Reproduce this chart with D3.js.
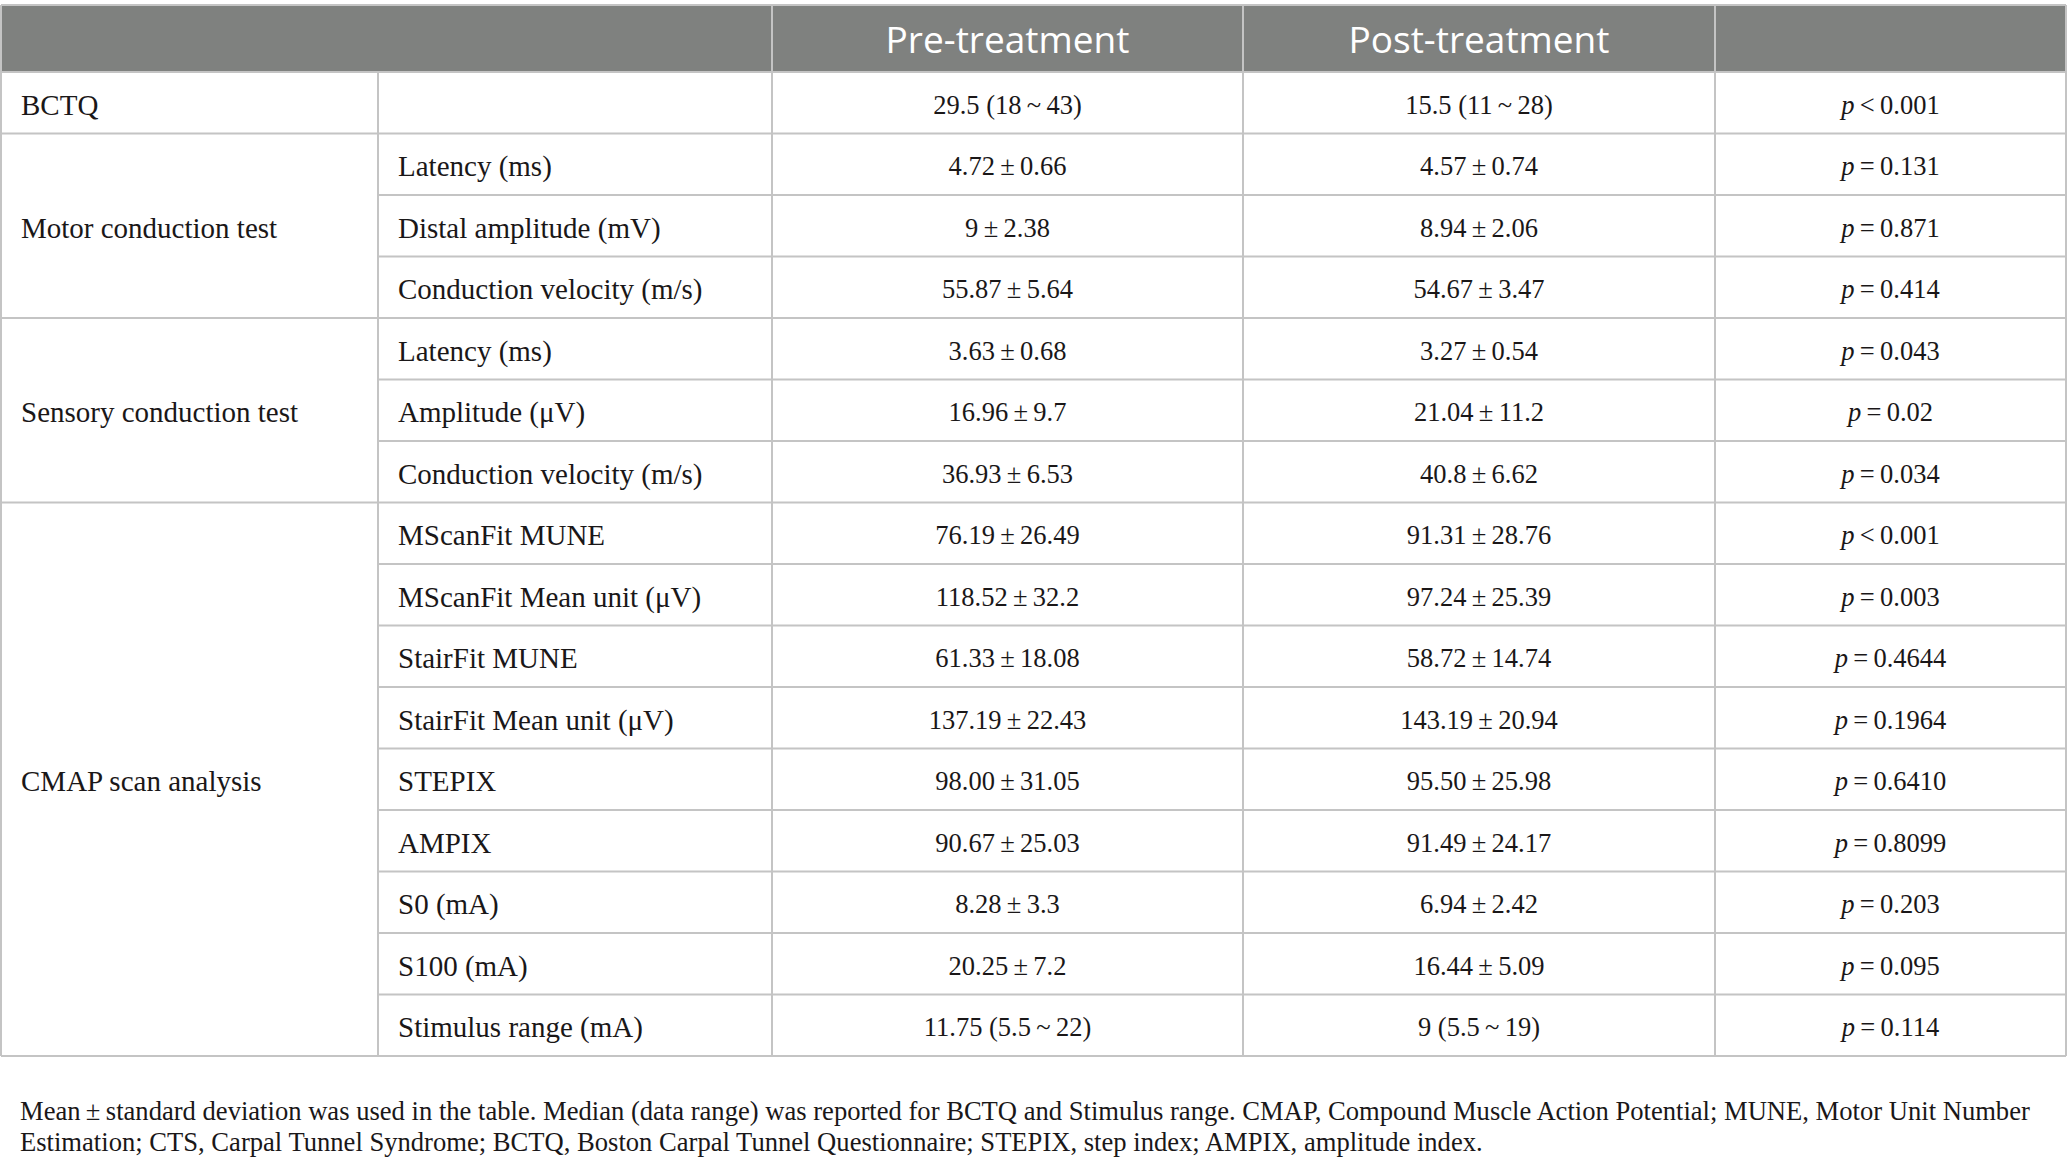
<!DOCTYPE html>
<html>
<head>
<meta charset="utf-8">
<script src="https://cdn.jsdelivr.net/npm/d3@7"></script>
<style>
  body { margin: 0; background: #fff; }
</style>
</head>
<body>
<svg id="chart" width="2067" height="1171"></svg>
<script>
// table content
const groups = ["BCTQ", "Motor conduction test", "Sensory conduction test", "CMAP scan analysis"]
const groupSpans = [1, 3, 3, 9]
const measures = ["", "Latency (ms)", "Distal amplitude (mV)", "Conduction velocity (m/s)",
  "Latency (ms)", "Amplitude (\u03bcV)", "Conduction velocity (m/s)",
  "MScanFit MUNE", "MScanFit Mean unit (\u03bcV)", "StairFit MUNE", "StairFit Mean unit (\u03bcV)",
  "STEPIX", "AMPIX", "S0 (mA)", "S100 (mA)", "Stimulus range (mA)"]
const preValues = ["29.5 (18\u2009~\u200943)", "4.72\u2009\u00b1\u20090.66", "9\u2009\u00b1\u20092.38", "55.87\u2009\u00b1\u20095.64",
  "3.63\u2009\u00b1\u20090.68", "16.96\u2009\u00b1\u20099.7", "36.93\u2009\u00b1\u20096.53",
  "76.19\u2009\u00b1\u200926.49", "118.52\u2009\u00b1\u200932.2", "61.33\u2009\u00b1\u200918.08", "137.19\u2009\u00b1\u200922.43",
  "98.00\u2009\u00b1\u200931.05", "90.67\u2009\u00b1\u200925.03", "8.28\u2009\u00b1\u20093.3", "20.25\u2009\u00b1\u20097.2", "11.75 (5.5\u2009~\u200922)"]
const postValues = ["15.5 (11\u2009~\u200928)", "4.57\u2009\u00b1\u20090.74", "8.94\u2009\u00b1\u20092.06", "54.67\u2009\u00b1\u20093.47",
  "3.27\u2009\u00b1\u20090.54", "21.04\u2009\u00b1\u200911.2", "40.8\u2009\u00b1\u20096.62",
  "91.31\u2009\u00b1\u200928.76", "97.24\u2009\u00b1\u200925.39", "58.72\u2009\u00b1\u200914.74", "143.19\u2009\u00b1\u200920.94",
  "95.50\u2009\u00b1\u200925.98", "91.49\u2009\u00b1\u200924.17", "6.94\u2009\u00b1\u20092.42", "16.44\u2009\u00b1\u20095.09", "9 (5.5\u2009~\u200919)"]
const pSigns = ["<", "=", "=", "=", "=", "=", "=", "<", "=", "=", "=", "=", "=", "=", "=", "="]
const pValues = ["0.001", "0.131", "0.871", "0.414", "0.043", "0.02", "0.034", "0.001", "0.003",
  "0.4644", "0.1964", "0.6410", "0.8099", "0.203", "0.095", "0.114"]
const headers = ["", "Pre-treatment", "Post-treatment", ""]
const footnote = [
  "Mean\u2009\u00b1\u2009standard deviation was used in the table. Median (data range) was reported for BCTQ and Stimulus range. CMAP, Compound Muscle Action Potential; MUNE, Motor Unit Number",
  "Estimation; CTS, Carpal Tunnel Syndrome; BCTQ, Boston Carpal Tunnel Questionnaire; STEPIX, step index; AMPIX, amplitude index."
]

const svg = d3.select("#chart")
const colEdges = [1, 378, 772, 1243, 1715, 2066]
const headTop = 5, headBottom = 72
const lineColor = "#c4c4c4"
const serif = "'Liberation Serif', 'Times New Roman', serif"
const ink = "#1a1718"

let y = d3.scaleBand().domain(d3.range(measures.length)).range([headBottom, 1056])
let rowMid = i => y(i) + y.bandwidth() / 2

// header band
svg.append("rect")
  .attr("x", colEdges[0]).attr("y", headTop)
  .attr("width", colEdges[5] - colEdges[0]).attr("height", headBottom - headTop)
  .attr("fill", "#7f817f")

let headCols = [[0, 2], [2, 3], [3, 4], [4, 5]]
svg.selectAll(".head")
  .data(headers)
  .enter().append("text")
  .attr("x", (d, i) => (colEdges[headCols[i][0]] + colEdges[headCols[i][1]]) / 2)
  .attr("y", (headTop + headBottom) / 2 + 14.5)
  .attr("text-anchor", "middle")
  .attr("font-family", "'Open Sans', sans-serif")
  .attr("font-size", 37)
  .attr("fill", "#fff")
  .text(d => d)

// horizontal lines: full width at group edges, partial inside groups
let starts = []
let acc = 0
groupSpans.forEach(s => { starts.push(acc); acc += s })
let hLines = []
hLines.push({ y: headTop, x1: colEdges[0] })
hLines.push({ y: headBottom, x1: colEdges[0] })
d3.range(1, measures.length + 1).forEach(i => {
  let full = i === measures.length || starts.includes(i)
  hLines.push({ y: i === measures.length ? 1056 : y(i), x1: full ? colEdges[0] : colEdges[1] })
})
svg.selectAll(".hline")
  .data(hLines)
  .enter().append("line")
  .attr("x1", d => d.x1).attr("x2", colEdges[5])
  .attr("y1", d => d.y).attr("y2", d => d.y)
  .attr("stroke", lineColor).attr("stroke-width", 2)

// vertical lines
let vLines = [
  { x: colEdges[0], y1: headTop }, { x: colEdges[5], y1: headTop },
  { x: colEdges[1], y1: headBottom },
  { x: colEdges[2], y1: headTop }, { x: colEdges[3], y1: headTop }, { x: colEdges[4], y1: headTop }
]
svg.selectAll(".vline")
  .data(vLines)
  .enter().append("line")
  .attr("x1", d => d.x).attr("x2", d => d.x)
  .attr("y1", d => d.y1).attr("y2", 1056)
  .attr("stroke", lineColor).attr("stroke-width", 2)

// group labels
svg.selectAll(".group")
  .data(groups)
  .enter().append("text")
  .attr("x", colEdges[0] + 20)
  .attr("y", (d, i) => (y(starts[i]) + y(starts[i] + groupSpans[i] - 1) + y.bandwidth()) / 2 + 12)
  .attr("font-family", serif).attr("font-size", 29).attr("fill", ink)
  .text(d => d)

// measure labels
svg.selectAll(".measure")
  .data(measures)
  .enter().append("text")
  .attr("x", colEdges[1] + 20)
  .attr("y", (d, i) => rowMid(i) + 12)
  .attr("font-family", serif).attr("font-size", 29).attr("fill", ink)
  .text(d => d)

// values
;[preValues, postValues].forEach((vals, k) => {
  svg.selectAll(".val" + k)
    .data(vals)
    .enter().append("text")
    .attr("x", (colEdges[k + 2] + colEdges[k + 3]) / 2)
    .attr("y", (d, i) => rowMid(i) + 11)
    .attr("text-anchor", "middle")
    .attr("font-family", serif).attr("font-size", 26.5).attr("fill", ink)
    .text(d => d)
})

// p values
let pText = svg.selectAll(".pval")
  .data(pValues)
  .enter().append("text")
  .attr("x", (colEdges[4] + colEdges[5]) / 2)
  .attr("y", (d, i) => rowMid(i) + 11)
  .attr("text-anchor", "middle")
  .attr("font-family", serif).attr("font-size", 26.5).attr("fill", ink)
pText.append("tspan").attr("font-style", "italic").text("p")
pText.append("tspan").text((d, i) => "\u2009" + pSigns[i] + "\u2009" + d)

// footnote
svg.selectAll(".foot")
  .data(footnote)
  .enter().append("text")
  .attr("x", 20)
  .attr("y", (d, i) => 1120 + i * 30.5)
  .attr("font-family", serif).attr("font-size", 26.6).attr("fill", ink)
  .text(d => d)
</script>
</body>
</html>
